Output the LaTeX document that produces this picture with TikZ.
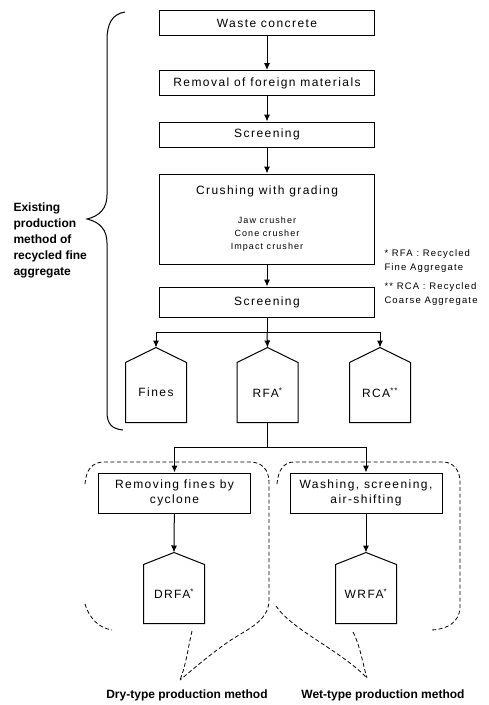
\documentclass[tikz,border=0pt]{standalone}
\usepackage{fontspec}
\setmainfont{Liberation Sans}
\newfontfamily\wideface[LetterSpace=12]{Liberation Sans}
\usetikzlibrary{arrows.meta}
% house shaped bin: roof over a node
\newcommand{\roof}[2][15]{\draw (#2.south west)--(#2.north west)--([yshift=#1pt]#2.north)coordinate(#2-t)--(#2.north east)--(#2.south east)--cycle;}
\begin{document}
\begin{tikzpicture}[x=1pt,y=-1pt,line width=1pt]
\tikzstyle{bx} = [rectangle,draw=black,minimum width=215,minimum height=25,inner sep=0,font=\wideface\fontsize{12}{15}\selectfont] %process box
\tikzstyle{sb} = [bx,minimum width=152,minimum height=40,align=center] %small box
\tikzstyle{bin} = [rectangle,minimum width=60,minimum height=59,inner sep=0,font=\wideface\fontsize{12}{15}\selectfont] %bin body
\tikzstyle{ar} = [-{Latex[length=7pt,width=6pt]}] %arrow
\tikzstyle{grp} = [dash pattern=on 4pt off 2.5pt,line width=0.8pt] %group outline
\tikzstyle{lbl} = [font=\bfseries\fontsize{12}{16}\selectfont,inner sep=0] %bold label
\useasboundingbox (0,0) rectangle (488,705);
\node[bx](wc)at(267,23){Waste concrete};
\node[bx](rm)at(267,83){Removal of foreign materials};
\node[bx](s1)at(267,134.5){Screening};
\node[bx,minimum height=90,align=center](cr)at(267,219){Crushing with grading\\[14pt]\fontsize{9}{13}\selectfont Jaw crusher\\[-2pt]\fontsize{9}{13}\selectfont Cone crusher\\[-2pt]\fontsize{9}{13}\selectfont Impact crusher};
\node[bx,minimum height=30](s2)at(267,302){Screening};
\node[bin](fi)at(156,392.5){Fines};
\node[bin](rf)at(267.5,392.5){RFA\textsuperscript{*}};
\node[bin](rc)at(380,392.5){RCA\textsuperscript{**}};
\roof{fi}\roof{rf}\roof{rc}
\node[sb](cy)at(174.5,493){Removing fines by\\cyclone};
\node[sb](ws)at(366,493){Washing, screening,\\air-shifting};
\node[bin,minimum height=58](dr)at(174,594){DRFA\textsuperscript{*}};
\node[bin,minimum height=58](wr)at(366,594){WRFA\textsuperscript{*}};
\roof[12]{dr}\roof[12]{wr}
\draw[ar](wc)--(rm);
\draw[ar](rm)--(s1);
\draw[ar](s1)--(cr);
\draw[ar](cr)--(s2);
\draw(s2.south)--++(0,15)coordinate(j1);
\draw[ar](j1)-|(fi-t);
\draw[ar](j1)--(rf-t);
\draw[ar](j1)-|(rc-t);
\draw(rf.south)--++(0,25)coordinate(j2);
\draw[ar](j2)-|(cy.north);
\draw[ar](j2)-|(ws.north);
\draw[ar](cy)--(dr-t);
\draw[ar](ws)--(wr-t);
% notes
\node[anchor=north west,align=left,inner sep=0,font=\wideface\fontsize{9.5}{14.5}\selectfont](nt)at(384,249){* RFA : Recycled\\Fine Aggregate\\[4pt]** RCA : Recycled\\Coarse Aggregate};
% existing method brace
\node[lbl,anchor=west,align=left](ex)at(13,240){Existing\\production\\method of\\recycled fine\\aggregate};
\draw (125,12) .. controls (112,14) and (107,24) .. (107,40) -- (107,195) .. controls (107,208) and (100,216) .. (87,219) .. controls (100,222) and (107,230) .. (107,243) -- (107,412) .. controls (107,424) and (112,429) .. (123,430);
% dry and wet groups
\coordinate(dp)at(180,680);
\coordinate(wp)at(367,678);
\draw[grp] (85,484) .. controls (86,470) and (92,462) .. (104,462) -- (250,462) .. controls (262,462) and (269,470) .. (269,482) -- (269,600) .. controls (269,622) and (245,630) .. (228,642) .. controls (208,656) and (192,670) .. (dp);
\draw[grp] (85,604) .. controls (90,620) and (100,628) .. (112,630);
\draw[grp] (192,631) .. controls (188,648) and (186,665) .. (dp);
\draw[grp] (277,484) .. controls (278,470) and (284,462) .. (294,462) -- (443,462) .. controls (453,462) and (460,470) .. (460,482) -- (460,608) .. controls (459,622) and (448,629) .. (432,630);
\draw[grp] (276,606) .. controls (292,630) and (340,650) .. (wp);
\draw[grp] (353,632) .. controls (360,645) and (363,665) .. (wp);
\node[lbl](dt)at(187,695){Dry-type production method};
\node[lbl](wt)at(383,695){Wet-type production method};
\end{tikzpicture}
\end{document}
